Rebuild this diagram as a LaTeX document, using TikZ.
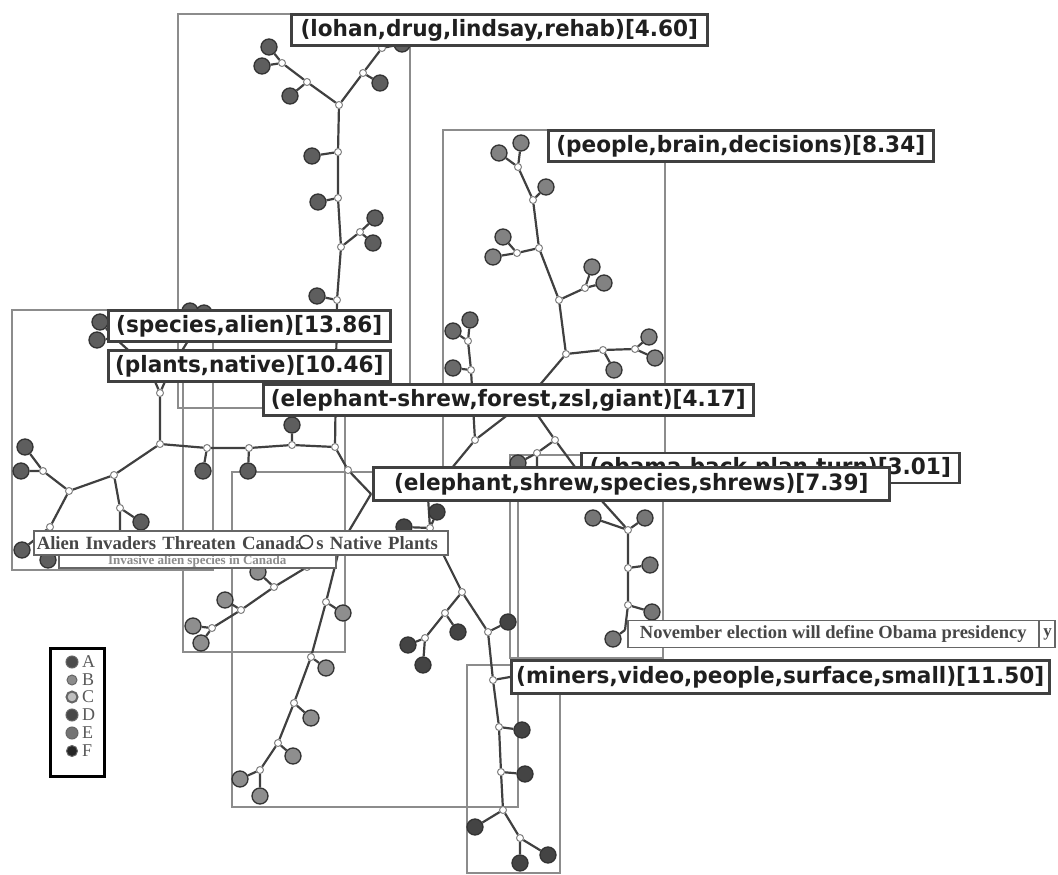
\documentclass[tikz,border=0pt]{standalone}
\usepackage{fontspec}
\newfontfamily\labfont{DejaVu Sans}[FakeStretch=0.96]
\newfontfamily\capfont{Liberation Serif}
\definecolor{frm}{HTML}{8C8C8C}
\definecolor{edg}{HTML}{404040}
\definecolor{cA}{HTML}{5E5E5E}
\definecolor{cB}{HTML}{828282}
\definecolor{cC}{HTML}{8E8E8E}
\definecolor{cD}{HTML}{444444}
\definecolor{cE}{HTML}{767676}
\definecolor{cF}{HTML}{6A6A6A}
\pgfdeclarelayer{bg}
\pgfdeclarelayer{lab}
\pgfdeclarelayer{over}
\pgfsetlayers{bg,main,lab,over}
\tikzset{
  frame/.style={draw=frm, line width=2pt},
  edge/.style={draw=edg, line width=2.2pt},
  inn/.style={circle, draw=black!50, fill=white, line width=1pt, minimum size=7pt, inner sep=0pt},
  leaf/.style={circle, draw=black!80, line width=1.3pt, minimum size=16pt, inner sep=0pt, fill=#1},
  lbl/.style={draw=black!75, line width=2.5pt, fill=white, inner xsep=3pt, inner ysep=0pt,
    minimum height=31pt, anchor=west, text=black!88,
    font=\labfont\bfseries\fontsize{22.5}{22.5}\selectfont},
  capbox/.style={draw=black!60, line width=1.5pt, fill=white, inner xsep=2pt, inner ysep=0pt,
    minimum height=24pt, anchor=west, text=black!72,
    font=\capfont\bfseries\fontsize{18.7}{18.7}\selectfont},
  lgdot/.style={circle, draw=black!60, line width=1pt, inner sep=0pt, minimum size=#1},
  lgtxt/.style={anchor=west, inner sep=0pt, text=black!65, font=\capfont\fontsize{18}{18}\selectfont},
}
\begin{document}
\begin{tikzpicture}[x=1pt,y=-1pt]
\useasboundingbox (0,0) rectangle (1058,875);

% ---------- frames ----------
\begin{pgfonlayer}{bg}
\draw[frame] (178,14) rectangle (410,408);
\draw[frame] (443,130) rectangle (665,485);
\draw[frame] (12,310) rectangle (213,570);
\draw[frame] (183,370) rectangle (345,652);
\draw[frame] (232,472) rectangle (518,807);
\draw[frame] (510,455) rectangle (663,658);
\draw[frame] (467,665) rectangle (560,873);
\end{pgfonlayer}

% ---------- lohan tree ----------
\node[inn] (L1) at (339,105) {};
\node[inn] (L2) at (307,82) {};
\node[inn] (L3) at (282,63) {};
\node[leaf=cA] (la) at (269,47) {};
\node[leaf=cA] (lb) at (262,66) {};
\node[leaf=cA] (lc) at (290,96) {};
\node[inn] (L4) at (363,73) {};
\node[leaf=cA] (ld) at (380,83) {};
\node[inn] (L5) at (382,48) {};
\node[leaf=cA] (le) at (402,44) {};
\node[inn] (L6) at (338,152) {};
\node[leaf=cA] (lf) at (312,156) {};
\node[inn] (L7) at (338,198) {};
\node[leaf=cA] (lg) at (318,202) {};
\node[inn] (L8) at (341,247) {};
\node[inn] (L9) at (360,232) {};
\node[leaf=cA] (lh) at (375,218) {};
\node[leaf=cA] (li) at (373,243) {};
\node[inn] (L10) at (337,300) {};
\node[leaf=cA] (lj) at (317,296) {};

% ---------- horizontal / species tree ----------
\node[inn] (H0) at (160,444) {};
\node[inn] (H1) at (207,448) {};
\node[leaf=cA] (ha) at (203,471) {};
\node[inn] (H2) at (249,448) {};
\node[leaf=cA] (hb) at (248,471) {};
\node[inn] (H3) at (292,445) {};
\node[leaf=cA] (hc) at (292,425) {};
\node[inn] (H4) at (335,447) {};
\node[inn] (U1) at (160,393) {};
\coordinate (X1) at (150,370);
\coordinate (X2) at (170,370);
\coordinate (X3) at (115,338);
\coordinate (X4) at (196,328);
\node[leaf=cA] (s1) at (100,322) {};
\node[leaf=cA] (s2) at (97,340) {};
\node[leaf=cA] (s3) at (190,311) {};
\node[leaf=cA] (s4) at (204,313) {};
\node[inn] (H5) at (114,475) {};
\node[inn] (H6) at (120,508) {};
\node[leaf=cA] (hd) at (141,522) {};
\coordinate (H7) at (120,538);
\node[inn] (H8) at (69,491) {};
\node[inn] (H9) at (43,471) {};
\node[leaf=cA] (he) at (25,447) {};
\node[leaf=cA] (hf) at (21,471) {};
\node[inn] (H10) at (50,527) {};
\node[leaf=cA] (hg) at (22,550) {};
\node[leaf=cA] (hh) at (48,560) {};

% ---------- elephant-shrew lower-left chains ----------
\node[inn] (E1) at (348,470) {};
\coordinate (E2) at (371,494);
\coordinate (E4) at (340,546);
\node[inn] (E5) at (326,602) {};
\node[leaf=cC] (ea) at (343,613) {};
\node[inn] (E6) at (311,657) {};
\node[leaf=cC] (eb) at (326,668) {};
\node[inn] (E7) at (294,703) {};
\node[leaf=cC] (ec) at (311,718) {};
\node[inn] (E8) at (278,743) {};
\node[leaf=cC] (ed) at (293,756) {};
\node[inn] (E9) at (260,770) {};
\node[leaf=cC] (ee) at (240,779) {};
\node[leaf=cC] (ef) at (260,796) {};
\node[inn] (F1) at (307,567) {};
\node[inn] (F2) at (274,587) {};
\node[leaf=cC] (fa) at (258,572) {};
\node[inn] (F3) at (241,610) {};
\node[leaf=cC] (fb) at (225,600) {};
\node[inn] (F4) at (212,628) {};
\node[leaf=cC] (fc) at (193,626) {};
\node[leaf=cC] (fd) at (201,643) {};

% ---------- central / right part ----------
\node[inn] (B0) at (566,354) {};
\coordinate (R0) at (527,400);
\node[inn] (R1) at (475,440) {};
\node[inn] (R2) at (555,440) {};
\node[inn] (R3) at (471,370) {};
\node[leaf=cF] (ra) at (453,368) {};
\node[inn] (R4) at (468,341) {};
\node[leaf=cF] (rb) at (453,331) {};
\node[leaf=cF] (rc) at (470,320) {};
\coordinate (R5) at (428,497);
\node[inn] (N1) at (430,528) {};
\node[leaf=cD] (na) at (404,527) {};
\node[leaf=cD] (nb) at (437,512) {};
\node[inn] (M1) at (462,592) {};
\node[inn] (M2) at (445,613) {};
\node[leaf=cD] (ma) at (458,632) {};
\node[inn] (M3) at (425,638) {};
\node[leaf=cD] (mb) at (408,645) {};
\node[leaf=cD] (mc) at (423,665) {};
\node[inn] (M4) at (488,632) {};
\node[leaf=cD] (md) at (508,622) {};
\node[inn] (M5) at (493,680) {};
\node[inn] (M6) at (499,727) {};
\node[leaf=cD] (me) at (522,730) {};
\node[inn] (M7) at (501,772) {};
\node[leaf=cD] (mf) at (525,774) {};
\node[inn] (M8) at (503,810) {};
\node[leaf=cD] (mg) at (475,827) {};
\node[inn] (M9) at (520,838) {};
\node[leaf=cD] (mh) at (520,863) {};
\node[leaf=cD] (mi) at (548,855) {};
\node[inn] (R6) at (537,453) {};
\node[leaf=cF] (rd) at (518,463) {};
\coordinate (R6c) at (537,478);
\coordinate (O0) at (592,490);
\node[inn] (O1) at (628,530) {};
\node[leaf=cE] (oa) at (593,518) {};
\node[leaf=cE] (ob) at (645,518) {};
\node[inn] (O2) at (628,568) {};
\node[leaf=cE] (oc) at (650,565) {};
\node[inn] (O3) at (628,605) {};
\node[leaf=cE] (od) at (652,612) {};
\coordinate (O4) at (625,630);
\node[leaf=cE] (oe) at (613,639) {};

% ---------- people tree ----------
\node[inn] (P1) at (603,350) {};
\node[leaf=cB] (pa) at (614,370) {};
\node[inn] (P2) at (635,349) {};
\node[leaf=cB] (pb) at (649,337) {};
\node[leaf=cB] (pc) at (655,358) {};
\node[inn] (P3) at (559,300) {};
\node[inn] (P4) at (585,288) {};
\node[leaf=cB] (pd) at (592,267) {};
\node[leaf=cB] (pe) at (604,283) {};
\node[inn] (P5) at (539,248) {};
\node[inn] (P6) at (517,253) {};
\node[leaf=cB] (pf) at (503,237) {};
\node[leaf=cB] (pg) at (493,257) {};
\node[inn] (P7) at (533,200) {};
\node[leaf=cB] (ph) at (546,187) {};
\node[inn] (P8) at (518,167) {};
\node[leaf=cB] (pi) at (499,153) {};
\node[leaf=cB] (pj) at (521,143) {};

% ---------- labels ----------
\begin{pgfonlayer}{lab}
\node[lbl, minimum width=416pt] (lohan) at (290,30) {(lohan,drug,lindsay,rehab)[4.60]};
\node[lbl, minimum width=385pt] (people) at (547,146) {(people,brain,decisions)[8.34]};
\node[lbl, minimum width=282pt] (species) at (107,326) {(species,alien)[13.86]};
\node[lbl, minimum width=282pt] (plants) at (107,366) {(plants,native)[10.46]};
\node[lbl, minimum width=490pt] (eshrew) at (262,400) {(elephant-shrew,forest,zsl,giant)[4.17]};
\node[lbl, minimum width=378pt, minimum height=30pt] (obama) at (580,468) {(obama,back,plan,turn)[3.01]};
\node[lbl, minimum width=516pt, minimum height=33pt] (eleph) at (372,484) {(elephant,shrew,species,shrews)[7.39]};
\node[lbl, minimum width=538pt, minimum height=33pt] (miners) at (510,677) {(miners,video,people,surface,small)[11.50]};
\node[capbox, minimum width=277pt, minimum height=14pt, text=black!45,
      font=\capfont\bfseries\fontsize{13}{13}\selectfont] (invasive) at (58,561) {Invasive alien species in Canada};
\node[capbox, minimum width=414pt, align=left, text width=408pt] (alien) at (33,543) {Alien Invaders Threaten Canada\kern12pt s Native Plants};
\node[capbox, minimum width=427pt, minimum height=27pt, align=right, text width=421pt,
      font=\capfont\bfseries\fontsize{17}{17}\selectfont] (novback) at (627,634) {y};
\node[capbox, minimum width=411pt, minimum height=27pt,
      font=\capfont\bfseries\fontsize{18.5}{18.5}\selectfont] (nov) at (627,634) {November election will define Obama presidency};
\end{pgfonlayer}

\begin{pgfonlayer}{over}
\node[circle, draw=black!75, fill=white, line width=1.5pt, minimum size=13pt, inner sep=0pt] (F0) at (306,542) {};
\end{pgfonlayer}

% ---------- legend ----------
\node[draw=black, line width=3pt, minimum width=54pt, minimum height=128pt, inner sep=0pt] (legend) at (77,712) {};
\node[lgdot=12pt, fill=black!70] (lgA) at (72,662) {};
\node[lgdot=10pt, fill=black!45] (lgB) at (72,680) {};
\node[lgdot=11pt, fill=black!25, line width=2pt] (lgC) at (72,697) {};
\node[lgdot=12pt, fill=black!72] (lgD) at (72,715) {};
\node[lgdot=12pt, fill=black!55] (lgE) at (72,733) {};
\node[lgdot=11pt, fill=black!85] (lgF) at (72,751) {};
\node[lgtxt] (tA) at (82,662) {A};
\node[lgtxt] (tB) at (82,680) {B};
\node[lgtxt] (tC) at (82,697) {C};
\node[lgtxt] (tD) at (82,715) {D};
\node[lgtxt] (tE) at (82,733) {E};
\node[lgtxt] (tF) at (82,751) {F};

% ---------- edges ----------
\begin{pgfonlayer}{bg}
\draw[edge] (L1)--(L2) (L2)--(L3) (L3)--(la) (L3)--(lb) (L2)--(lc)
  (L1)--(L4) (L4)--(ld) (L4)--(L5) (L5)--(le)
  (L1)--(L6) (L6)--(lf) (L6)--(L7) (L7)--(lg) (L7)--(L8) (L8)--(L9) (L9)--(lh) (L9)--(li)
  (L8)--(L10) (L10)--(lj) (L10)--(H4);
\draw[edge] (H0)--(H1) (H1)--(H2) (H2)--(H3) (H3)--(H4) (H1)--(ha) (H2)--(hb) (H3)--(hc)
  (H0)--(U1) (U1)--(X1) (U1)--(X2) (X1)--(X3) (X3)--(s1) (X3)--(s2) (X2)--(X4) (X4)--(s3) (X4)--(s4)
  (H0)--(H5) (H5)--(H6) (H6)--(hd) (H6)--(H7) (H5)--(H8) (H8)--(H9) (H9)--(he) (H9)--(hf)
  (H8)--(H10) (H10)--(hg) (H10)--(hh);
\draw[edge] (H4)--(E1) (E1)--(E2) (E2)--(E4) (E4)--(E5) (E5)--(ea) (E5)--(E6) (E6)--(eb)
  (E6)--(E7) (E7)--(ec) (E7)--(E8) (E8)--(ed) (E8)--(E9) (E9)--(ee) (E9)--(ef)
  (E4)--(F0) (E4)--(F1) (F1)--(F2) (F2)--(fa) (F2)--(F3) (F3)--(fb) (F3)--(F4) (F4)--(fc) (F4)--(fd);
\draw[edge] (B0)--(R0) (R0)--(R1) (R0)--(R2) (R1)--(R3) (R3)--(ra) (R3)--(R4) (R4)--(rb) (R4)--(rc)
  (R1)--(R5) (R5)--(N1) (N1)--(na) (N1)--(nb) (N1)--(M1)
  (M1)--(M2) (M2)--(ma) (M2)--(M3) (M3)--(mb) (M3)--(mc) (M1)--(M4) (M4)--(md) (M4)--(M5)
  (M5)--(M6) (M6)--(me) (M6)--(M7) (M7)--(mf) (M7)--(M8) (M8)--(mg) (M8)--(M9) (M9)--(mh) (M9)--(mi)
  (M5)--(miners.west)
  (R2)--(R6) (R6)--(rd) (R6)--(R6c) (R2)--(O0) (O0)--(O1) (O1)--(oa) (O1)--(ob)
  (O1)--(O2) (O2)--(oc) (O2)--(O3) (O3)--(od) (O3)--(O4) (O4)--(oe);
\draw[edge] (B0)--(P1) (P1)--(pa) (P1)--(P2) (P2)--(pb) (P2)--(pc) (B0)--(P3) (P3)--(P4) (P4)--(pd) (P4)--(pe)
  (P3)--(P5) (P5)--(P6) (P6)--(pf) (P6)--(pg) (P5)--(P7) (P7)--(ph) (P7)--(P8) (P8)--(pi) (P8)--(pj);
\end{pgfonlayer}
\end{tikzpicture}
\end{document}
